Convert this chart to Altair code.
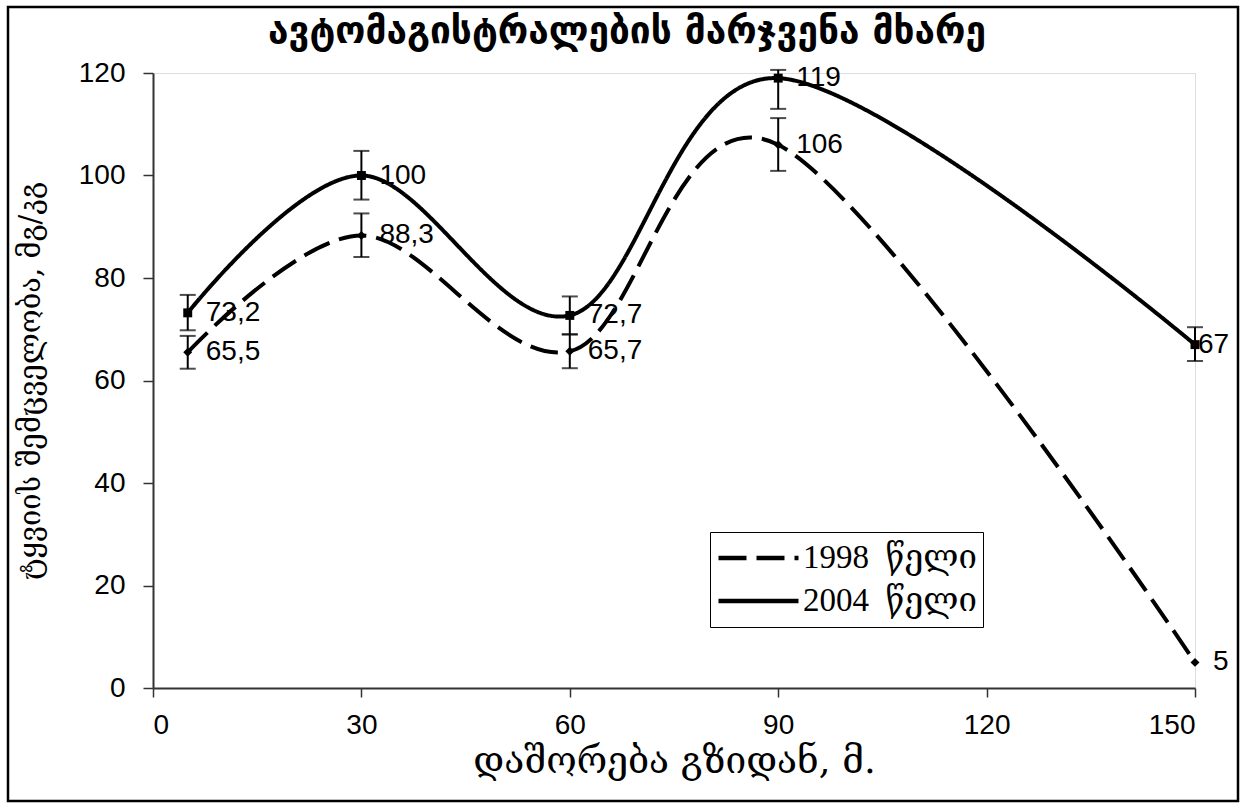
import altair as alt
import pandas as pd

# ---- data ----
distance = [5, 30, 60, 90, 150]
y1998 = [65.5, 88.3, 65.7, 106, 5]
y2004 = [73.2, 100, 72.7, 119, 67]
lo1998 = [62.3, 84.1, 62.4, 100.9, None]
hi1998 = [68.7, 92.6, 69.0, 111.2, None]
lo2004 = [69.8, 95.3, 69.0, 113.0, 63.8]
hi2004 = [76.7, 104.8, 76.4, 120.6, 70.4]
lab1998 = ["65,5", "88,3", "65,7", "106", "5"]
lab2004 = ["73,2", "100", "72,7", "119", "67"]
series_names = ["1998 წელი", "2004 წელი"]

title_text = "ავტომაგისტრალების მარჯვენა მხარე"
x_title = "დაშორება გზიდან, მ."
y_title = "ტყვიის შემცველობა, მგ/კგ"

rows = []
for name, ys, los, his, labs in [
    (series_names[0], y1998, lo1998, hi1998, lab1998),
    (series_names[1], y2004, lo2004, hi2004, lab2004),
]:
    for d, v, lo, hi, lab in zip(distance, ys, los, his, labs):
        rows.append({"series": name, "d": d, "v": v, "lo": lo, "hi": hi, "lab": lab})
df = pd.DataFrame(rows)

W, H = 1042, 615
SANS = "Liberation Sans"
SERIF = "Liberation Serif, DejaVu Serif"

xscale = alt.Scale(domain=[0, 150], nice=False, zero=False)
yscale = alt.Scale(domain=[0, 120], nice=False)

base = alt.Chart(df)

x_enc = alt.X(
    "d:Q", scale=xscale,
    axis=alt.Axis(values=[0, 30, 60, 90, 120, 150], title=x_title, grid=False,
                  labelFont=SANS, labelFontSize=28, labelColor="black",
                  labelPadding=14, tickSize=9, tickColor="#333333",
                  domainColor="#333333", domainWidth=2, tickWidth=1.5,
                  titleFont="DejaVu Serif", titleFontSize=37, titleFontWeight="normal",
                  titleColor="black", titlePadding=4),
)
y_enc = alt.Y(
    "v:Q", scale=yscale,
    axis=alt.Axis(values=[0, 20, 40, 60, 80, 100, 120], title=y_title, grid=False,
                  labelFont=SANS, labelFontSize=28, labelColor="black",
                  labelPadding=18, tickSize=10, tickColor="#333333",
                  domainColor="#333333", domainWidth=2, tickWidth=1.5,
                  titleFont="DejaVu Serif", titleFontSize=29, titleFontWeight="normal",
                  titleColor="black", titlePadding=33),
)

dash_scale = alt.Scale(domain=series_names, range=[[28, 10], [1, 0]])

lines = base.mark_line(interpolate="cardinal", tension=0, strokeWidth=4, color="black").encode(
    x=x_enc, y=y_enc,
    strokeDash=alt.StrokeDash(
        "series:N", scale=dash_scale,
        legend=alt.Legend(
            title=None, orient="none", legendX=557, legendY=459,
            symbolType="stroke", symbolSize=6400, symbolStrokeWidth=4.5,
            symbolStrokeColor="black", labelFont=SERIF, labelFontSize=33,
            labelColor="black", labelOffset=2, rowPadding=3, padding=6,
            clipHeight=40,
            labelExpr="replace(datum.label, ' ', '\u00a0\u00a0')",
            strokeColor="black", fillColor="white", labelLimit=400,
        ),
    ),
)

pts98 = base.transform_filter(alt.datum.series == series_names[0]).mark_point(
    filled=True, color="black", size=80, opacity=1, shape="diamond"
).encode(x="d:Q", y="v:Q")
pts04 = base.transform_filter(alt.datum.series == series_names[1]).mark_point(
    filled=True, color="black", size=80, opacity=1, shape="square"
).encode(x="d:Q", y="v:Q")

err_base = base.transform_filter("isValid(datum.lo)")
err_rule = err_base.mark_rule(color="black", strokeWidth=2).encode(
    x="d:Q", y="lo:Q", y2="hi:Q"
)
cap_lo = err_base.mark_tick(color="black", orient="horizontal", size=16, thickness=2).encode(
    x="d:Q", y="lo:Q"
)
cap_hi = err_base.mark_tick(color="black", orient="horizontal", size=16, thickness=2).encode(
    x="d:Q", y="hi:Q"
)

labels = base.transform_filter("datum.lab != '67'").mark_text(
    align="left", baseline="middle", dx=18, font=SANS, fontSize=28, color="black"
).encode(x="d:Q", y="v:Q", text="lab:N")
label67 = base.transform_filter("datum.lab == '67'").mark_text(
    align="left", baseline="middle", dx=3, font=SANS, fontSize=28, color="black"
).encode(x="d:Q", y="v:Q", text="lab:N")

deco = alt.Chart(pd.DataFrame({"t": [title_text]}))
frame = deco.mark_rect(fill=None, stroke="black", strokeWidth=2.5).encode(
    x=alt.value(-145), x2=alt.value(1085), y=alt.value(-66), y2=alt.value(728)
)
title = deco.mark_text(
    align="center", baseline="middle", font="DejaVu Sans", fontSize=37,
    fontWeight="bold", color="black"
).encode(x=alt.value(474), y=alt.value(-41), text="t:N")

chart = alt.layer(frame, title, lines, err_rule, cap_lo, cap_hi, pts98, pts04, labels, label67).properties(
    width=W, height=H,
    autosize=alt.AutoSizeParams(type="none"),
    padding={"left": 153, "top": 73, "right": 51, "bottom": 115},
).configure_view(
    stroke="#888888", strokeWidth=2.5
).configure(background="white")

chart.save("out.html", embed_options={"renderer": "svg", "actions": False})
